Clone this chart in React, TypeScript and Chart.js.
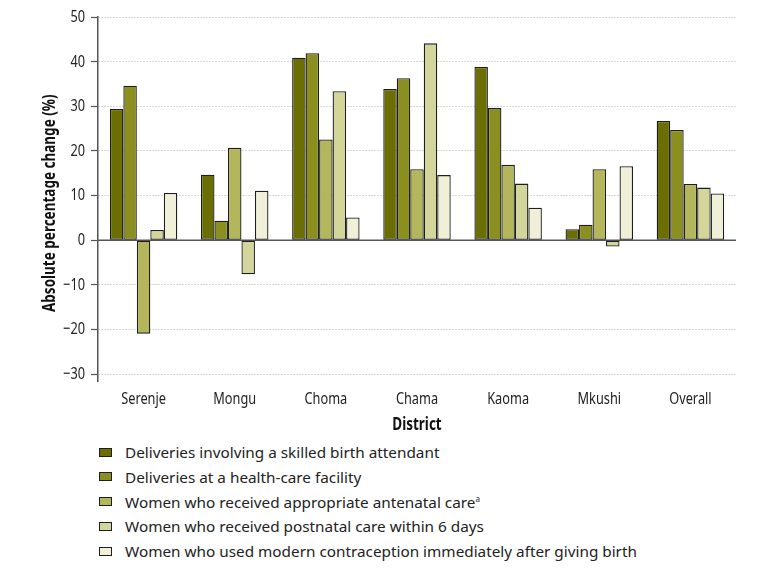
import React, { useEffect, useRef } from "react";
import { Chart, registerables } from "chart.js";

Chart.register(...registerables);

const categories = ["Serenje", "Mongu", "Choma", "Chama", "Kaoma", "Mkushi", "Overall"];

const skilledAttendant = [29.4, 14.7, 40.9, 33.9, 38.8, 2.5, 26.7];
const healthFacility = [34.6, 4.4, 41.9, 36.3, 29.6, 3.5, 24.7];
const antenatalCare = [-20.9, 20.7, 22.6, 15.9, 16.9, 15.9, 12.6];
const postnatalCare = [2.3, -7.6, 33.4, 44.1, 12.7, -1.4, 11.8];
const contraception = [10.6, 11.1, 5.1, 14.6, 7.3, 16.6, 10.5];

const seriesLabels = [
  "Deliveries involving a skilled birth attendant",
  "Deliveries at a health-care facility",
  "Women who received appropriate antenatal care",
  "Women who received postnatal care within 6 days",
  "Women who used modern contraception immediately after giving birth",
];
const seriesSuperscripts = ["", "", "a", "", ""];
const seriesColors = ["#6b6e02", "#8b8f20", "#b3b65a", "#d3d59a", "#f0efd8"];

const yMin = -31.5;
const yMax = 50;
const yStep = 10;
const yTitle = "Absolute percentage change (%)";
const yTitleCenterValue = 8.3;

const FONT = "'Noto Sans', 'Liberation Sans', sans-serif";

export default function App() {
  const canvasRef = useRef<HTMLCanvasElement | null>(null);

  useEffect(() => {
    const canvas = canvasRef.current;
    if (!canvas) return;
    const seriesData = [skilledAttendant, healthFacility, antenatalCare, postnatalCare, contraception];

    const extras = {
      id: "extras",
      beforeInit(chart: any) {
        const ctx = chart.ctx;
        if (ctx.__condensed) return;
        const orig = ctx.fillText.bind(ctx);
        ctx.fillText = (text: string, x: number, y: number, maxWidth?: number) => {
          const font = String(ctx.font);
          const f = font.indexOf("bold") >= 0 || font.indexOf("700") >= 0 ? 0.75 : 0.75;
          ctx.save();
          ctx.translate(x, y);
          ctx.scale(f, 1);
          if (maxWidth === undefined) orig(text, 0, 0);
          else orig(text, 0, 0, maxWidth / f);
          ctx.restore();
        };
        ctx.__condensed = true;
      },
      beforeDatasetsDraw(chart: any) {
        const y = chart.scales.y.getPixelForValue(0);
        const { left, right } = chart.chartArea;
        const ctx = chart.ctx;
        ctx.save();
        ctx.strokeStyle = "#555555";
        ctx.lineWidth = 1.5;
        ctx.beginPath();
        ctx.moveTo(left, y);
        ctx.lineTo(right, y);
        ctx.stroke();
        ctx.restore();
      },
      afterDraw(chart: any) {
        const ctx = chart.ctx;
        const cy = chart.scales.y.getPixelForValue(yTitleCenterValue);
        ctx.save();
        ctx.translate(42, cy);
        ctx.rotate(-Math.PI / 2);
        ctx.font = "bold 18px " + FONT;
        ctx.fillStyle = "#111";
        ctx.textAlign = "center";
        ctx.textBaseline = "middle";
        ctx.fillText(yTitle, 0, 0);
        ctx.restore();
      },
    };

    const chart = new Chart(canvas, {
      type: "bar",
      data: {
        labels: categories,
        datasets: seriesData.map((d, i) => ({
          label: seriesLabels[i],
          data: d,
          backgroundColor: seriesColors[i],
          borderColor: "#1e1e1e",
          borderWidth: 1.3,
          borderSkipped: false,
          categoryPercentage: 0.74,
          barPercentage: 1,
        })),
      },
      options: {
        animation: false,
        responsive: true,
        maintainAspectRatio: false,
        layout: { padding: { top: 9, right: 27, left: 0, bottom: 0 } },
        plugins: {
          legend: { display: false },
          tooltip: { enabled: false },
        },
        scales: {
          x: {
            grid: { display: false, drawTicks: false },
            border: { display: false },
            ticks: {
              color: "#222",
              font: { family: FONT, size: 17 },
              padding: 8,
            },
            title: {
              display: true,
              text: "District",
              color: "#111",
              font: { family: FONT, size: 18, weight: "bold" },
              padding: { top: 0, bottom: 4 },
            },
            afterFit: (scale: any) => {
              scale.height = 59;
              scale.paddingLeft = 0;
              scale.paddingRight = 0;
            },
          },
          y: {
            min: yMin,
            max: yMax,
            ticks: {
              stepSize: yStep,
              includeBounds: false,
              color: "#222",
              padding: 6,
              font: { family: FONT, size: 17 },
              callback: (v: any) => (Number(v) < 0 ? "\u2212" + Math.abs(Number(v)) : String(v)),
            },
            grid: {
              color: "#b0b0b0",
              lineWidth: 1,
              drawTicks: true,
              tickLength: 7,
              tickColor: "#555555",
              tickWidth: 1.2,
              tickBorderDash: [],
            },
            border: { display: true, color: "#555555", width: 1.5, dash: [1, 2] },
            title: { display: false },
            afterFit: (scale: any) => {
              scale.width = 90;
              scale.paddingTop = 0;
              scale.paddingBottom = 0;
            },
          },
        },
      },
      plugins: [extras],
    });
    return () => chart.destroy();
  }, []);

  return (
    <div style={{ position: "relative", width: 755, height: 553 }}>
      <div style={{ position: "absolute", left: 0, top: 0, width: 755, height: 432 }}>
        <canvas ref={canvasRef} />
      </div>
      {seriesLabels.map((label, i) => (
        <div
          key={label}
          style={{
            position: "absolute",
            left: 91,
            top: 434 + i * 24.8,
            height: 20,
            display: "flex",
            alignItems: "center",
            fontFamily: "'Noto Sans', sans-serif",
            fontSize: 15.3,
            color: "#222",
            whiteSpace: "nowrap",
          }}
        >
          <span
            style={{
              display: "inline-block",
              width: 11,
              height: 7,
              background: seriesColors[i],
              border: "1px solid #1e1e1e",
              marginRight: 13,
            }}
          />
          <span>
            {label}
            {seriesSuperscripts[i] ? (
              <sup style={{ fontSize: 8, verticalAlign: "super" }}>{seriesSuperscripts[i]}</sup>
            ) : null}
          </span>
        </div>
      ))}
    </div>
  );
}
